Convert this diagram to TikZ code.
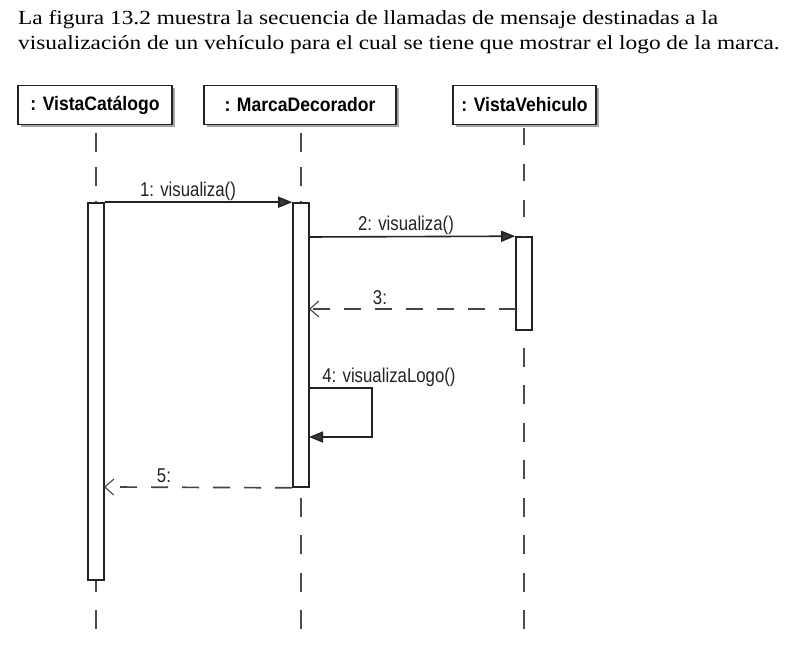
\documentclass[tikz,border=0pt]{standalone}
\usepackage{fontspec}
\setmainfont[FakeStretch=1.166]{Liberation Serif}
\newfontfamily\diagfont[FakeStretch=0.84]{Liberation Sans}
\newfontfamily\diagbold[FakeStretch=0.9]{Liberation Sans Bold}
\usetikzlibrary{arrows.meta,shadows}
\definecolor{ink}{RGB}{35,35,35}
\definecolor{lifegray}{RGB}{75,75,75}
\definecolor{tipgray}{RGB}{55,55,55}
\begin{document}
\begin{tikzpicture}[x=1pt,y=-1pt,
  objbox/.style={draw=ink, line width=1.8pt, fill=white, minimum height=39pt, inner sep=0pt,
    font=\diagbold\fontsize{19.5}{21}\selectfont,
    drop shadow={shadow xshift=3pt, shadow yshift=-3pt, fill=gray!70, opacity=1}},
  actbar/.style={draw=ink, line width=1.6pt, fill=white, minimum width=16pt, inner sep=0pt},
  lifeline/.style={draw=lifegray, line width=1.5pt, dash pattern=on 19pt off 15pt, dash phase=-7.5pt},
  lifelinec/.style={draw=lifegray, line width=1.5pt, dash pattern=on 17pt off 19pt, dash phase=-2.5pt},
  lifelinelow/.style={draw=lifegray, line width=1.5pt, dash pattern=on 19pt off 18.5pt},
  callmsg/.style={draw=ink, line width=1.6pt, -{Triangle[length=14pt,width=11pt,fill=tipgray]}},
  retmsg/.style={draw=ink!85, line width=1.7pt, dash pattern=on 17pt off 14pt, -{Straight Barb[length=9pt,width=16pt,line width=1.1pt]}},
  msglabel/.style={font=\diagfont\fontsize{20}{22}\selectfont, text=ink, inner sep=0pt, anchor=base},
  intro/.style={font=\fontsize{20}{24}\selectfont, inner sep=0pt, anchor=base west}
]
\useasboundingbox (0,0) rectangle (787,647);

% introductory text
\node[intro] (t1) at (18,25) {La figura 13.2 muestra la secuencia de llamadas de mensaje destinadas a la};
\node[intro] (t2) at (18,50) {visualización de un vehículo para el cual se tiene que mostrar el logo de la marca.};

% objects
\node[objbox, minimum width=154pt] (objA) at (95,105) {: VistaCatálogo};
\node[objbox, minimum width=192pt] (objB) at (300,105) {: MarcaDecorador};
\node[objbox, minimum width=143pt] (objC) at (524.5,105) {: VistaVehiculo};

% activation bars
\node[actbar, minimum height=377pt] (barA) at (96,391.5) {};
\node[actbar, minimum height=284pt] (barB) at (301,345) {};
\node[actbar, minimum height=93pt] (barC) at (524,283.5) {};

% lifeline ends
\coordinate (endA) at (96,629);
\coordinate (endB) at (301,629);
\coordinate (endC) at (524,629);

% lifelines
\draw[lifeline] (objA.south -| barA.north) -- (barA.north);
\draw[lifelinelow] (endA) -- (barA.south);
\draw[lifeline] (objB.south -| barB.north) -- (barB.north);
\draw[lifelinelow] (endB) -- (barB.south);
\draw[lifelinec] (objC.south -| barC.north) -- (barC.north);
\draw[lifelinelow] (endC) -- (barC.south);

% message anchor coordinates
\coordinate (m2s) at (309,237);
\coordinate (m3s) at (516,309);
\coordinate (m3e) at (309,309);
\coordinate (m4s) at (309,388);
\coordinate (m4e) at (309,437);
\coordinate (m5e) at (104,487);

% messages
\draw[callmsg] (barA.north east) -- (barB.north west);
\draw[callmsg] (m2s) -- (barC.north west);
\draw[retmsg] (m3s) -- (m3e);
\draw[callmsg] (m4s) -- ++(63,0) |- (m4e);
\draw[retmsg] (barB.south west) -- (m5e);

% labels
\node[msglabel] (l1) at (188,197) {1: visualiza()};
\node[msglabel] (l2) at (406,231) {2: visualiza()};
\node[msglabel] (l3) at (380,304) {3:};
\node[msglabel] (l4) at (389,382) {4: visualizaLogo()};
\node[msglabel] (l5) at (164,482) {5:};
\end{tikzpicture}
\end{document}
